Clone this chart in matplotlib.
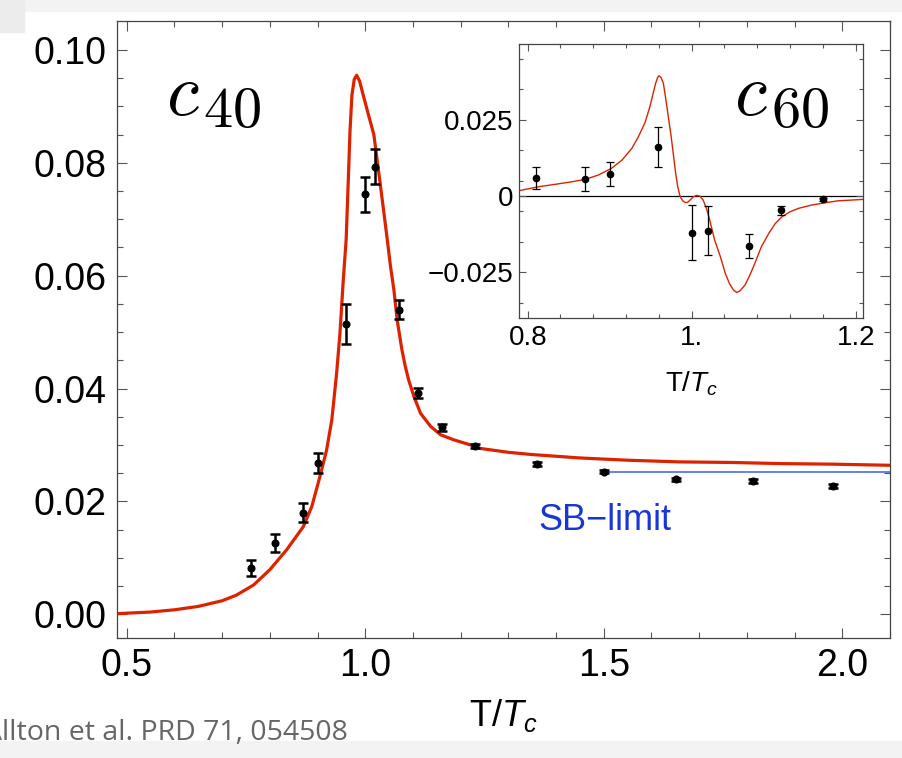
import matplotlib
matplotlib.use("Agg")
import matplotlib.pyplot as plt
from matplotlib.patches import Rectangle

plt.rcParams['font.family'] = ['Liberation Sans', 'DejaVu Sans']
plt.rcParams['mathtext.fontset'] = 'custom'
plt.rcParams['mathtext.rm'] = 'Liberation Sans'
plt.rcParams['mathtext.it'] = 'Liberation Sans:italic'

# lattice data, c40
c40_T = [0.761, 0.811, 0.870, 0.900, 0.960, 1.000, 1.021, 1.071, 1.111, 1.161,
         1.230, 1.361, 1.501, 1.651, 1.812, 1.980]
c40_val = [0.0082, 0.0127, 0.0180, 0.0268, 0.0514, 0.0744, 0.0793, 0.0540, 0.0392, 0.0331,
           0.0298, 0.0266, 0.0253, 0.0239, 0.0236, 0.0227]
c40_err = [0.0015, 0.0016, 0.0017, 0.0018, 0.0035, 0.0031, 0.0031, 0.0016, 0.0009, 0.0006,
           0.0004, 0.0003, 0.0003, 0.0003, 0.0003, 0.0003]

# model curve, c40
fit40_T = [0.479, 0.500, 0.550, 0.600, 0.650, 0.700, 0.730, 0.766, 0.800, 0.835,
           0.870, 0.888, 0.905, 0.919, 0.930, 0.940, 0.947, 0.954, 0.960, 0.965,
           0.968, 0.972, 0.977, 0.982, 0.988, 0.996, 1.008, 1.018, 1.028, 1.039,
           1.046, 1.053, 1.060, 1.067, 1.077, 1.084, 1.091, 1.102, 1.116, 1.137,
           1.158, 1.186, 1.221, 1.240, 1.300, 1.350, 1.450, 1.550, 1.660, 1.770,
           1.870, 1.980, 2.100]
fit40_val = [0.0001, 0.0002, 0.0004, 0.0008, 0.0014, 0.0024, 0.0034, 0.0052, 0.0079, 0.0114,
             0.0155, 0.0191, 0.0244, 0.0291, 0.0345, 0.0427, 0.0498, 0.0593, 0.0664, 0.0782,
             0.0855, 0.0919, 0.0948, 0.0955, 0.0945, 0.0919, 0.0881, 0.0850, 0.0785, 0.0712,
             0.0665, 0.0616, 0.0575, 0.0521, 0.0468, 0.0439, 0.0415, 0.0386, 0.0356, 0.0333,
             0.0318, 0.0309, 0.0300, 0.0294, 0.0287, 0.0283, 0.0277, 0.0273, 0.0270, 0.0269,
             0.0267, 0.0266, 0.0264]

# Stefan-Boltzmann limit
sb_T = [1.5, 2.1]
sb_val = [0.0252, 0.0252]

# lattice data, c60
c60_T = [0.810, 0.870, 0.900, 0.959, 1.000, 1.020, 1.070, 1.109, 1.160]
c60_val = [0.0060, 0.0056, 0.0072, 0.0161, -0.0120, -0.0113, -0.0163, -0.0047, -0.0010]
c60_err = [0.0037, 0.0039, 0.0040, 0.0065, 0.0091, 0.0079, 0.0040, 0.0016, 0.0005]

# model curve, c60
fit60_T = [0.789, 0.813, 0.833, 0.854, 0.870, 0.886, 0.902, 0.915, 0.927, 0.935,
           0.943, 0.949, 0.953, 0.956, 0.9585, 0.960, 0.9626, 0.9655, 0.968, 0.9715,
           0.975, 0.978, 0.9805, 0.983, 0.986, 0.989, 0.992, 0.995, 0.998, 1.002,
           1.006, 1.010, 1.014, 1.018, 1.022, 1.028, 1.035, 1.041, 1.046, 1.051,
           1.055, 1.059, 1.065, 1.071, 1.077, 1.085, 1.094, 1.102, 1.110, 1.120,
           1.130, 1.146, 1.163, 1.179, 1.195, 1.209]
fit60_val = [0.00175, 0.00306, 0.00383, 0.00470, 0.00547, 0.00689, 0.00908, 0.01181, 0.01564, 0.01947,
             0.02406, 0.02931, 0.03368, 0.03696, 0.03893, 0.03948, 0.03893, 0.03696, 0.03259, 0.02603,
             0.01947, 0.01290, 0.00744, 0.00306, -0.00022, -0.00153, -0.00208, -0.00208, -0.00131, -0.00022,
             0.00022, 0.0, -0.00131, -0.00405, -0.00787, -0.01444, -0.01990, -0.02537, -0.02865, -0.03084,
             -0.03161, -0.03106, -0.02920, -0.02592, -0.02209, -0.01662, -0.01225, -0.00897, -0.00678, -0.00514,
             -0.00405, -0.00295, -0.00219, -0.00153, -0.00131, -0.00109]

main_xticks = [0.5, 1.0, 1.5, 2.0]
main_xlabels = ['0.5', '1.0', '1.5', '2.0']
main_yticks = [0.00, 0.02, 0.04, 0.06, 0.08, 0.10]
main_ylabels = ['0.00', '0.02', '0.04', '0.06', '0.08', '0.10']
inset_xticks = [0.8, 1.0, 1.2]
inset_xlabels = ['0.8', '1.', '1.2']
inset_yticks = [-0.025, 0.0, 0.025]
inset_ylabels = ['\u22120.025', '0', '0.025']

RED = '#dd2200'
FRAME = '#444444'


def style_axes(ax, labelsize, major_len, minor_len, pad_x, pad_y):
    for sp in ax.spines.values():
        sp.set_color(FRAME)
        sp.set_linewidth(0.9)
    ax.tick_params(which='both', direction='in', top=True, right=True, color='#555555', width=0.8)
    ax.tick_params(which='major', length=major_len, labelsize=labelsize)
    ax.tick_params(which='minor', length=minor_len)
    ax.tick_params(axis='x', pad=pad_x)
    ax.tick_params(axis='y', pad=pad_y)


def coeff_label(fig, x_px, sub):
    # big italic c with a fairly large upright subscript, TeX look
    fig.text((x_px - 4) / 902, 1 - 115 / 758, r'$c$', math_fontfamily='cm', fontsize=53,
             ha='left', va='baseline')
    fig.text((x_px + 33) / 902, 1 - 127 / 758, r'$\mathrm{' + sub + '}$', math_fontfamily='cm',
             fontsize=42, ha='left', va='baseline')


def main():
    fig = plt.figure(figsize=(9.02, 7.58), dpi=100)

    # slide background bits
    fig.patches.append(Rectangle((0, 1 - 11 / 758), 1, 11 / 758, transform=fig.transFigure,
                                 color='#f3f3f3', zorder=0))
    fig.patches.append(Rectangle((0, 1 - 32 / 758), 24 / 902, 32 / 758, transform=fig.transFigure,
                                 color='#ececec', zorder=0))
    fig.patches.append(Rectangle((0, 0), 1, 17 / 758, transform=fig.transFigure,
                                 color='#f3f3f3', zorder=0))

    # main panel
    ax = fig.add_axes([116.7 / 902, 1 - 638.3 / 758, (890 - 116.7) / 902, (638.3 - 20.5) / 758])
    ax.plot(fit40_T, fit40_val, color=RED, lw=2.3, zorder=2, solid_joinstyle='round')
    ax.plot(sb_T, sb_val, color='#3a5fe0', lw=1.1, zorder=1)
    ax.errorbar(c40_T, c40_val, yerr=c40_err, fmt='o', color='black', ms=4.8,
                elinewidth=1.8, capsize=3.4, capthick=1.8, zorder=3)
    ax.text(1.503, 0.0149, 'SB\u2212limit', color='#1a35d6', fontsize=26, ha='center', va='baseline')

    ax.set_xlim(0.479, 2.1)
    ax.set_ylim(-0.00425, 0.1052)
    ax.set_xticks(main_xticks)
    ax.set_xticklabels(main_xlabels)
    ax.set_yticks(main_yticks)
    ax.set_yticklabels(main_ylabels)
    ax.set_xticks([v / 10 for v in range(5, 22)], minor=True)
    ax.set_yticks([v / 200 for v in range(0, 21)], minor=True)
    style_axes(ax, 27, 7, 4, 7, 7)
    ax.set_xlabel('T/$T_c$', fontsize=26, labelpad=9)

    coeff_label(fig, 170, '40')

    # inset panel
    ins = fig.add_axes([519 / 902, 1 - 318.3 / 758, (863.3 - 519) / 902, (318.3 - 44) / 758])
    ins.axhline(0, color='black', lw=0.9, zorder=1)
    ins.plot(fit60_T, fit60_val, color=RED, lw=1.0, zorder=2)
    ins.errorbar(c60_T, c60_val, yerr=c60_err, fmt='o', color='black', ms=4.5,
                 elinewidth=0.9, capsize=3.0, capthick=0.9, zorder=3)
    ins.set_xlim(0.7894, 1.2093)
    ins.set_ylim(-0.0401, 0.0499)
    ins.set_xticks(inset_xticks)
    ins.set_xticklabels(inset_xlabels)
    ins.set_yticks(inset_yticks)
    ins.set_yticklabels(inset_ylabels)
    ins.set_xticks([0.84, 0.88, 0.92, 0.96, 1.04, 1.08, 1.12, 1.16], minor=True)
    ins.set_yticks([-0.035, -0.015, -0.005, 0.005, 0.015, 0.035, 0.045], minor=True)
    style_axes(ins, 20, 5, 3, 5, 4)
    ins.set_xlabel('T/$T_c$', fontsize=20, labelpad=13)

    coeff_label(fig, 738, '60')

    # citation (cut at the left edge, as on the slide)
    fig.text(348 / 902, 1 - 740 / 758, 'Allton et al. PRD 71, 054508', family='Open Sans',
             color='#666666', fontsize=20.5, ha='right', va='baseline')

    fig.savefig('out.png', dpi=100)


if __name__ == "__main__":
    main()
